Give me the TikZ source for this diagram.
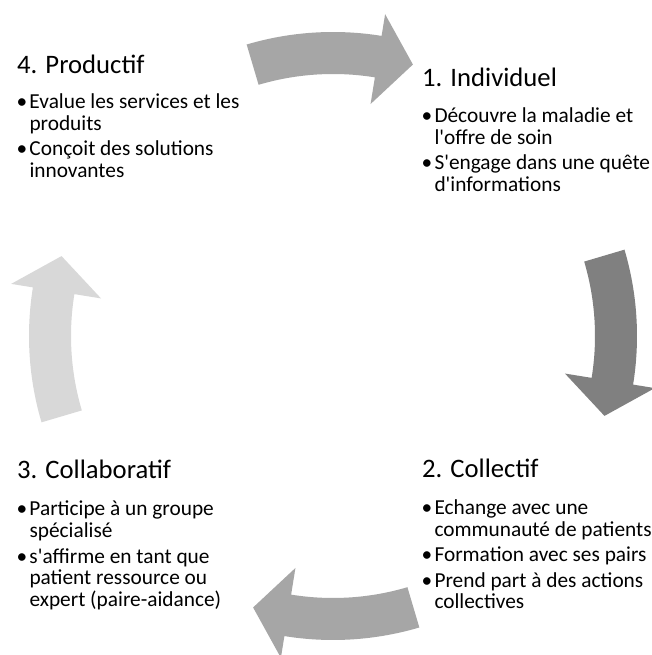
\documentclass[tikz,border=0pt]{standalone}
\usepackage{fontspec}
\setmainfont{Carlito}
\usepackage{xcolor}
\usepackage{tikz}
\usetikzlibrary{positioning}

\definecolor{grismoyen}{RGB}{166,166,166}
\definecolor{grisfonce}{RGB}{128,128,128}
\definecolor{grisclair}{RGB}{216,216,216}

\newcommand{\boule}{\makebox[12.3pt][r]{\textbullet\hspace{2.2pt}}}
\newcommand{\retrait}{\hspace*{12.3pt}}

\begin{document}
\begin{tikzpicture}[
    x=1pt, y=1pt,
    titre/.style={anchor=base west, inner sep=0pt, font=\fontsize{26.67}{32}\selectfont},
    puce/.style={anchor=base west, inner sep=0pt, align=left, font=\fontsize{21.33}{21.5}\selectfont}
]
\useasboundingbox[fill=white] (0,0) rectangle (651,655);

% Cycle arrows
\coordinate (centre) at (333,319);
\foreach \rot/\teinte in {0/grismoyen, 90/grisfonce, 180/grismoyen, 270/grisclair}{
  \pgfmathsetmacro{\aq}{106.5-\rot}
  \pgfmathsetmacro{\ac}{80.8-\rot}
  \pgfmathsetmacro{\ap}{73.6-\rot}
  \fill[\teinte] ([shift={(\aq:304pt)}]centre) arc[start angle=\aq, end angle=\ac, radius=304pt]
    -- ([shift={(\ac:326pt)}]centre) -- ([shift={(\ap:283pt)}]centre)
    -- ([shift={(\ac:235pt)}]centre) -- ([shift={(\ac:262pt)}]centre)
    arc[start angle=\ac, end angle=\aq, radius=262pt] -- cycle;
}

% 4. Productif (top left) -- base of a list node is its last line
\node[titre] (t4) at (17,581) {4. Productif};
\node[puce] (p1) at ([yshift=-56.5pt]t4.base west) {\boule Evalue les services et les\\\retrait produits};
\node[puce] (p2) at ([yshift=-47pt]p1.base west) {\boule Conçoit des solutions\\\retrait innovantes};

% 1. Individuel (top right)
\node[titre] (t1) at (422,568) {1. Individuel};
\node[puce] (i1) at ([yshift=-57.5pt]t1.base west) {\boule Découvre la maladie et\\\retrait l\textquotesingle offre de soin};
\node[puce] (i2) at ([yshift=-47pt]i1.base west) {\boule S\textquotesingle engage dans une quête\\\retrait d\textquotesingle informations};

% 3. Collaboratif (bottom left)
\node[titre] (t3) at (17,176) {3. Collaboratif};
\node[puce] (c1) at ([yshift=-58.5pt]t3.base west) {\boule Participe à un groupe\\\retrait spécialisé};
\node[puce] (c2) at ([yshift=-69pt]c1.base west) {\boule s\textquotesingle affirme en tant que\\\retrait patient ressource ou\\\retrait expert (paire-aidance)};

% 2. Collectif (bottom right)
\node[titre] (t2) at (422,177) {2. Collectif};
\node[puce] (k1) at ([yshift=-58.5pt]t2.base west) {\boule Echange avec une\\\retrait communauté de patients};
\node[puce] (k2) at ([yshift=-25.5pt]k1.base west) {\boule Formation avec ses pairs};
\node[puce] (k3) at ([yshift=-47pt]k2.base west) {\boule Prend part à des actions\\\retrait collectives};

\end{tikzpicture}
\end{document}
